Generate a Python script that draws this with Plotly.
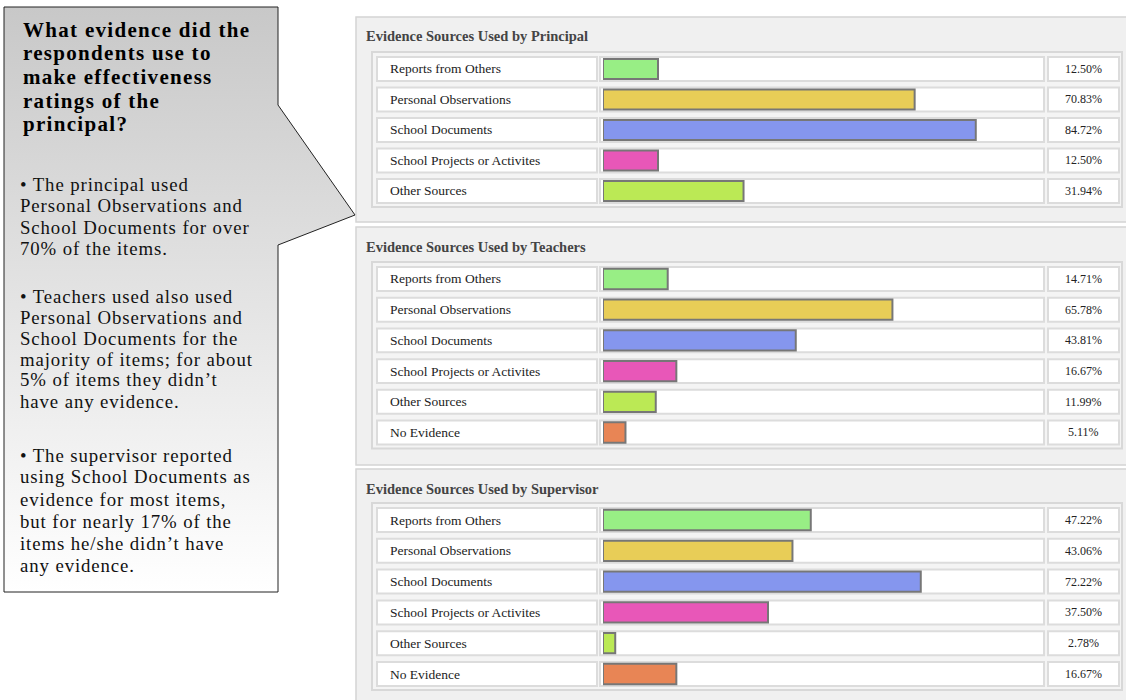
import plotly.graph_objects as go

W, H = 1126, 700

# ---------------- data ----------------
categories_principal = ["Reports from Others", "Personal Observations", "School Documents",
                        "School Projects or Activites", "Other Sources"]
values_principal = [12.50, 70.83, 84.72, 12.50, 31.94]

categories_teachers = ["Reports from Others", "Personal Observations", "School Documents",
                       "School Projects or Activites", "Other Sources", "No Evidence"]
values_teachers = [14.71, 65.78, 43.81, 16.67, 11.99, 5.11]

categories_supervisor = ["Reports from Others", "Personal Observations", "School Documents",
                         "School Projects or Activites", "Other Sources", "No Evidence"]
values_supervisor = [47.22, 43.06, 72.22, 37.50, 2.78, 16.67]

panel_titles = ["Evidence Sources Used by Principal",
                "Evidence Sources Used by Teachers",
                "Evidence Sources Used by Supervisor"]

category_colors = {
    "Reports from Others": "#98EE85",
    "Personal Observations": "#E8CD57",
    "School Documents": "#8596EE",
    "School Projects or Activites": "#E857B8",
    "Other Sources": "#BBE955",
    "No Evidence": "#E88555",
}

heading_lines = ["What evidence did the", "respondents use to", "make effectiveness",
                 "ratings of the", "principal?"]
body_paragraphs = [
    ["\u2022 The principal used", "Personal Observations and", "School Documents for over",
     "70% of the items."],
    ["\u2022 Teachers used also used", "Personal Observations and", "School Documents for the",
     "majority of items; for about", "5% of items they didn\u2019t", "have any evidence."],
    ["\u2022 The supervisor reported", "using School Documents as", "evidence for most items,",
     "but for nearly 17% of the", "items he/she didn\u2019t have", "any evidence."],
]

# ---------------- layout geometry (pixels) ----------------
SERIF = "Liberation Serif, Times New Roman, serif"


def px(x):
    return x / W


def py(y):
    return 1 - y / H


panels = [
    # (panel top, panel bottom, title y, first row center, row pitch)
    (17, 222, 36, 69.0, 30.5),
    (227, 465, 247, 279.0, 30.7),
    (469, 710, 489, 520.0, 30.8),
]
series = [
    (categories_principal, values_principal),
    (categories_teachers, values_teachers),
    (categories_supervisor, values_supervisor),
]

BAR_X0, BAR_X1 = 603, 1043
LABEL_CELL = (377, 597)
BAR_CELL = (600, 1044)
VALUE_CELL = (1048, 1119)
TABLE_X = (372, 1122)

fig = go.Figure()
shapes = []
annotations = []

for k, ((ptop, pbot, ty, c0, pitch), (cats, vals), title) in enumerate(zip(panels, series, panel_titles)):
    n = len(cats)
    ax = "" if k == 0 else str(k + 1)
    xa, ya = "x" + ax, "y" + ax
    top = c0 - pitch / 2
    bot = c0 + (n - 0.5) * pitch

    fig.add_trace(go.Bar(
        x=vals, y=cats, orientation="h", xaxis=xa, yaxis=ya,
        marker=dict(color=[category_colors[c] for c in cats],
                    line=dict(color="#777777", width=2)),
        width=0.66, hoverinfo="x+y", showlegend=False,
    ))
    fig.layout["xaxis" + ax] = dict(domain=[px(BAR_X0), px(BAR_X1)], range=[0, 100],
                                    visible=False, fixedrange=True, anchor=ya)
    fig.layout["yaxis" + ax] = dict(domain=[py(bot), py(top)], type="category",
                                    categoryorder="array", categoryarray=cats,
                                    range=[n - 0.5, -0.5], visible=False,
                                    fixedrange=True, anchor=xa)

    # panel background
    shapes.append(dict(type="rect", xref="paper", yref="paper", layer="below",
                       x0=px(356), x1=px(1130), y0=py(pbot), y1=py(ptop),
                       fillcolor="#F0F0F0", line=dict(color="#D4D4D4", width=1.5)))
    # table
    last_c = c0 + (n - 1) * pitch
    shapes.append(dict(type="rect", xref="paper", yref="paper", layer="below",
                       x0=px(TABLE_X[0]), x1=px(TABLE_X[1]),
                       y0=py(last_c + 16), y1=py(c0 - 17),
                       fillcolor="#F4F4F4", line=dict(color="#D8D8D8", width=2)))
    annotations.append(dict(text="<b>" + title + "</b>", xref="paper", yref="paper",
                            x=px(364), y=py(ty), xanchor="left", yanchor="middle",
                            showarrow=False, font=dict(family=SERIF, size=14.5, color="#444444")))
    for i, (c, v) in enumerate(zip(cats, vals)):
        for (cx0, cx1) in (LABEL_CELL, BAR_CELL, VALUE_CELL):
            shapes.append(dict(type="rect", xref="paper", yref=ya, layer="below",
                               x0=px(cx0), x1=px(cx1), y0=i - 0.39, y1=i + 0.39,
                               fillcolor="#FFFFFF", line=dict(color="#DCDCDC", width=2)))
        annotations.append(dict(text=c, xref="paper", yref=ya, x=px(388), y=c,
                                xanchor="left", yanchor="middle", showarrow=False,
                                font=dict(family=SERIF, size=13.5, color="#222222")))
        annotations.append(dict(text=f"{v:.2f}%", xref="paper", yref=ya,
                                x=px((VALUE_CELL[0] + VALUE_CELL[1]) / 2), y=c,
                                xanchor="center", yanchor="middle", showarrow=False,
                                font=dict(family=SERIF, size=12, color="#222222")))

# ---------------- callout box ----------------
callout_x = [4, 278, 278, 355, 278, 278, 4, 4]
callout_y = [7, 7, 105, 215, 245, 592, 592, 7]
fig.add_trace(go.Scatter(
    x=callout_x, y=callout_y, xaxis="x4", yaxis="y4", mode="lines",
    fill="toself", line=dict(color="#222222", width=1),
    fillgradient=dict(type="vertical", start=7, stop=592,
                      colorscale=[[0, "#C8C8C8"], [1, "#FFFFFF"]]),
    hoverinfo="skip", showlegend=False,
))
fig.layout["xaxis4"] = dict(domain=[0, 1], range=[0, W], visible=False, fixedrange=True, anchor="y4")
fig.layout["yaxis4"] = dict(domain=[0, 1], range=[H, 0], visible=False, fixedrange=True, anchor="x4")

heading_y0, heading_step = 30, 23.5
for i, line in enumerate(heading_lines):
    annotations.append(dict(text='<span style="letter-spacing:1.3px"><b>' + line + "</b></span>",
                            xref="paper", yref="paper",
                            x=px(21), y=py(heading_y0 + i * heading_step),
                            xanchor="left", yanchor="middle", showarrow=False,
                            font=dict(family=SERIF, size=21, color="#000000")))

para_starts = [185, 296, 455]
para_steps = [21, 21, 22]
for para, y0, st in zip(body_paragraphs, para_starts, para_steps):
    for i, line in enumerate(para):
        annotations.append(dict(text='<span style="letter-spacing:0.9px">' + line + "</span>",
                                xref="paper", yref="paper",
                                x=px(18), y=py(y0 + i * st),
                                xanchor="left", yanchor="middle", showarrow=False,
                                font=dict(family=SERIF, size=18.8, color="#111111")))

fig.update_layout(
    width=W, height=H, margin=dict(l=0, r=0, t=0, b=0),
    paper_bgcolor="#FFFFFF", plot_bgcolor="rgba(0,0,0,0)",
    shapes=shapes, annotations=annotations, bargap=0.3,
)

fig.write_html("out.html")
